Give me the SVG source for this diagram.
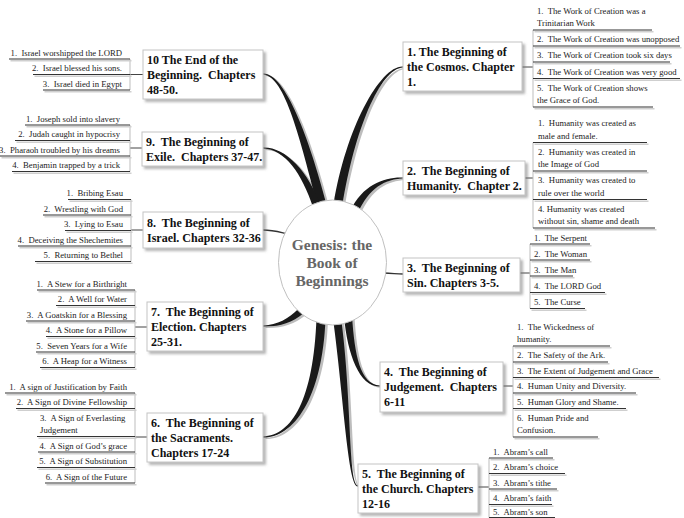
<svg xmlns="http://www.w3.org/2000/svg" xmlns:xlink="http://www.w3.org/1999/xlink" width="684" height="518" viewBox="0 0 684 518">
<style>
.mn{font-family:"Liberation Serif","Times New Roman",serif;font-weight:bold;font-size:12px;fill:#111;white-space:pre}
.it{font-family:"Liberation Serif","Times New Roman",serif;font-size:8.7px;fill:#222;white-space:pre}
.ct{font-family:"Liberation Serif","Times New Roman",serif;font-weight:bold;font-size:15.5px;fill:#666;text-anchor:middle}
.box{fill:#fff;stroke:#c4c4c4;stroke-width:1}
.ul{stroke:#333;stroke-width:1.2;fill:none}
.uls{stroke:#cfcfcf;stroke-width:1.4;fill:none}
.br{stroke:#bdbdbd;stroke-width:1;fill:none}
.lk{stroke:#444;stroke-width:1;fill:none}
.tp{fill:#1a1a1a}
.tps{fill:#bdbdbd}
.thin{stroke:#333;stroke-width:1.3;fill:none}
.r{text-anchor:end}
</style>
<defs>
<filter id="ds" x="-10%" y="-10%" width="130%" height="140%">
<feDropShadow dx="2.5" dy="2.5" stdDeviation="1.2" flood-color="#777" flood-opacity="0.55"/>
</filter>
<path id="tA" d="M263,73.5 C285,72.5 309.4,138.9 326.4,203.9 L317.6,206.1 C300.6,141.1 285,75.5 263,74.5 Z"/>
<path id="tB" d="M263,147.5 C285,146.7 308.3,170.9 320.6,205.8 L313.4,208.2 C301.7,173.1 285,149.3 263,148.5 Z"/>
<path id="tC" d="M403,66.5 C380,65.5 345.6,129.3 333.6,204.3 L342.4,205.7 C354.4,130.7 380,68.5 403,67.5 Z"/>
<path id="tD" d="M403,177.5 C385,176.7 362.8,184.5 350.5,210.4 L357.5,213.6 C369.2,187.5 385,179.3 403,178.5 Z"/>
<path id="tE" d="M263,325.5 C278,324.8 288,318.8 298.7,308.4 L303.3,313.6 C292,323.2 278,327.2 263,326.5 Z"/>
<path id="tF" d="M263,436.5 C292,435.5 313.5,399.8 316.5,317.8 L325.5,318.2 C322.5,400.2 292,438.5 263,437.5 Z"/>
<path id="tG" d="M358,485.5 C348,484.5 352,399.5 341,317.5 L333,318.5 C344,400.5 348,487.5 358,486.5 Z"/>
<path id="tH" d="M380,385.5 C360,384.5 354.6,354.7 352,315.7 L344,316.3 C347.4,355.3 360,387.5 380,386.5 Z"/>
<path id="u10" d="M9,59H130M33,74.5H130M43,90H130"/>
<path id="u9" d="M25,125H130M15,140.5H130M0,156H130M12,171.5H130"/>
<path id="u8" d="M68,199.5H131M43,215H131M65,230.5H131M18,246H131M35,261.5H131"/>
<path id="u7" d="M37,290H135M56,305.5H135M26,321H135M46,336.5H135M36,352H135M40,367.5H135"/>
<path id="u6" d="M5,393H135M16,408.5H135M37,436.5H135M38,452H135M37,467.5H135M45,483H135"/>
<path id="u1" d="M533,30H652M533,46H680M533,62H670M533,78.5H680M533,107H653"/>
<path id="u2" d="M533,142.5H647M533,171H647M533,199.5H647M533,228H655"/>
<path id="u3" d="M530,244H590M530,260H590M530,276H573M530,292.5H605M530,308.5H585"/>
<path id="u4" d="M513,346H610M513,362H608M513,377.5H659M513,393H636M513,408.5H626M513,437H598"/>
<path id="u5" d="M489,458H553M489,473.5H565M489,489H557M489,504.5H552M489,517.5H555"/>
</defs>

<g id="connectors">
<g class="tps" transform="translate(2.5,1.5)">
<use href="#tA"/><use href="#tB"/><use href="#tC"/><use href="#tD"/><use href="#tE"/><use href="#tF"/><use href="#tG"/><use href="#tH"/>
</g>
<g class="tp">
<use href="#tA"/><use href="#tB"/><use href="#tC"/><use href="#tD"/><use href="#tE"/><use href="#tF"/><use href="#tG"/><use href="#tH"/>
</g>
<path class="thin" d="M263,230 C273,230 279,232 288,234"/>
<path class="thin" d="M384,273 C392,273 396,274 403,274"/>
<path class="lk" d="M130,74.5H143M130,148H142M131,230H143M135,327H147M135,437H147M522,67H533M525,178H533M520,273H530M503,386H513M478,487H489"/>
<path class="br" d="M130,59V90M130,125V171.5M131,199.5V261.5M135,290V367.5M135,393V483M533,30V107M533,142.5V228M530,244V308.5M513,346V437M489,458V517.5"/>
</g>

<g id="center">
<ellipse cx="332.5" cy="262.5" rx="54" ry="62.5" fill="#fff" stroke="#c0c0c0" stroke-width="1"/>
<text class="ct" x="332" y="250">Genesis: the</text>
<text class="ct" x="332" y="268">Book of</text>
<text class="ct" x="332" y="286">Beginnings</text>
</g>

<g id="node10">
<rect class="box" x="143" y="50" width="120" height="49" filter="url(#ds)"/>
<text class="mn" x="147" y="64">10 The End of the</text>
<text class="mn" x="147" y="79">Beginning.  Chapters</text>
<text class="mn" x="147" y="94">48-50.</text>
<use href="#u10" class="uls" transform="translate(1.5,1.8)"/><use href="#u10" class="ul"/>
<text class="it r" x="122" y="55.5">1.  Israel worshipped the LORD</text>
<text class="it r" x="122" y="71">2.  Israel blessed his sons.</text>
<text class="it r" x="122" y="86.5">3.  Israel died in Egypt</text>
</g>

<g id="node9">
<rect class="box" x="142" y="132" width="121" height="34" filter="url(#ds)"/>
<text class="mn" x="146" y="146">9.  The Beginning of</text>
<text class="mn" x="146" y="161">Exile.  Chapters 37-47.</text>
<use href="#u9" class="uls" transform="translate(1.5,1.8)"/><use href="#u9" class="ul"/>
<text class="it r" x="120" y="121.5">1.  Joseph sold into slavery</text>
<text class="it r" x="120" y="137">2.  Judah caught in hypocrisy</text>
<text class="it r" x="120" y="152.5">3.  Pharaoh troubled by his dreams</text>
<text class="it r" x="120" y="168">4.  Benjamin trapped by a trick</text>
</g>

<g id="node8">
<rect class="box" x="143" y="212" width="120" height="36" filter="url(#ds)"/>
<text class="mn" x="147" y="227">8.  The Beginning of</text>
<text class="mn" x="147" y="242">Israel. Chapters 32-36</text>
<use href="#u8" class="uls" transform="translate(1.5,1.8)"/><use href="#u8" class="ul"/>
<text class="it r" x="123" y="196">1.  Bribing Esau</text>
<text class="it r" x="123" y="211.5">2.  Wrestling with God</text>
<text class="it r" x="123" y="227">3.  Lying to Esau</text>
<text class="it r" x="123" y="242.5">4.  Deceiving the Shechemites</text>
<text class="it r" x="123" y="258">5.  Returning to Bethel</text>
</g>

<g id="node7">
<rect class="box" x="147" y="302" width="116" height="49" filter="url(#ds)"/>
<text class="mn" x="151" y="316">7.  The Beginning of</text>
<text class="mn" x="151" y="331">Election. Chapters</text>
<text class="mn" x="151" y="346">25-31.</text>
<use href="#u7" class="uls" transform="translate(1.5,1.8)"/><use href="#u7" class="ul"/>
<text class="it r" x="127" y="286.5">1.  A Stew for a Birthright</text>
<text class="it r" x="127" y="302">2.  A Well for Water</text>
<text class="it r" x="127" y="317.5">3.  A Goatskin for a Blessing</text>
<text class="it r" x="127" y="333">4.  A Stone for a Pillow</text>
<text class="it r" x="127" y="348.5">5.  Seven Years for a Wife</text>
<text class="it r" x="127" y="364">6.  A Heap for a Witness</text>
</g>

<g id="node6">
<rect class="box" x="147" y="413" width="116" height="49" filter="url(#ds)"/>
<text class="mn" x="151" y="427">6.  The Beginning of</text>
<text class="mn" x="151" y="442">the Sacraments.</text>
<text class="mn" x="151" y="457">Chapters 17-24</text>
<use href="#u6" class="uls" transform="translate(1.5,1.8)"/><use href="#u6" class="ul"/>
<text class="it r" x="127" y="389.5">1.  A sign of Justification by Faith</text>
<text class="it r" x="127" y="405">2.  A Sign of Divine Fellowship</text>
<text class="it" x="40" y="420.5">3.  A Sign of Everlasting</text>
<text class="it" x="40" y="433">Judgement</text>
<text class="it r" x="127" y="448.5">4.  A Sign of God’s grace</text>
<text class="it r" x="127" y="464">5.  A Sign of Substitution</text>
<text class="it r" x="127" y="479.5">6.  A Sign of the Future</text>
</g>

<g id="node1">
<rect class="box" x="403" y="42" width="119" height="49" filter="url(#ds)"/>
<text class="mn" x="407" y="56">1. The Beginning of</text>
<text class="mn" x="407" y="71">the Cosmos. Chapter</text>
<text class="mn" x="407" y="86">1.</text>
<use href="#u1" class="uls" transform="translate(1.5,1.8)"/><use href="#u1" class="ul"/>
<text class="it" x="537" y="13.5">1.  The Work of Creation was a</text>
<text class="it" x="537" y="26">Trinitarian Work</text>
<text class="it" x="537" y="42">2.  The Work of Creation was unopposed</text>
<text class="it" x="537" y="58">3.  The Work of Creation took six days</text>
<text class="it" x="537" y="74.5">4.  The Work of Creation was very good</text>
<text class="it" x="537" y="90.5">5.  The Work of Creation shows</text>
<text class="it" x="537" y="103">the Grace of God.</text>
</g>

<g id="node2">
<rect class="box" x="403" y="161" width="122" height="34" filter="url(#ds)"/>
<text class="mn" x="407" y="175">2.  The Beginning of</text>
<text class="mn" x="407" y="190">Humanity.  Chapter 2.</text>
<use href="#u2" class="uls" transform="translate(1.5,1.8)"/><use href="#u2" class="ul"/>
<text class="it" x="538" y="126">1.  Humanity was created as</text>
<text class="it" x="538" y="138.5">male and female.</text>
<text class="it" x="538" y="154.5">2.  Humanity was created in</text>
<text class="it" x="538" y="167">the Image of God</text>
<text class="it" x="538" y="183">3.  Humanity was created to</text>
<text class="it" x="538" y="195.5">rule over the world</text>
<text class="it" x="538" y="211.5">4. Humanity was created</text>
<text class="it" x="538" y="224">without sin, shame and death</text>
</g>

<g id="node3">
<rect class="box" x="403" y="258" width="117" height="34" filter="url(#ds)"/>
<text class="mn" x="407" y="272">3.  The Beginning of</text>
<text class="mn" x="407" y="287">Sin. Chapters 3-5.</text>
<use href="#u3" class="uls" transform="translate(1.5,1.8)"/><use href="#u3" class="ul"/>
<text class="it" x="534" y="240.5">1.  The Serpent</text>
<text class="it" x="534" y="256.5">2.  The Woman</text>
<text class="it" x="534" y="272.5">3.  The Man</text>
<text class="it" x="534" y="289">4.  The LORD God</text>
<text class="it" x="534" y="305">5.  The Curse</text>
</g>

<g id="node4">
<rect class="box" x="380" y="362" width="123" height="50" filter="url(#ds)"/>
<text class="mn" x="384" y="376">4.  The Beginning of</text>
<text class="mn" x="384" y="391">Judgement.  Chapters</text>
<text class="mn" x="384" y="406">6-11</text>
<use href="#u4" class="uls" transform="translate(1.5,1.8)"/><use href="#u4" class="ul"/>
<text class="it" x="517" y="329.5">1.  The Wickedness of</text>
<text class="it" x="517" y="342">humanity.</text>
<text class="it" x="517" y="358">2.  The Safety of the Ark.</text>
<text class="it" x="517" y="373.5">3.  The Extent of Judgement and Grace</text>
<text class="it" x="517" y="389">4.  Human Unity and Diversity.</text>
<text class="it" x="517" y="404.5">5.  Human Glory and Shame.</text>
<text class="it" x="517" y="420.5">6.  Human Pride and</text>
<text class="it" x="517" y="433">Confusion.</text>
</g>

<g id="node5">
<rect class="box" x="358" y="464" width="120" height="49" filter="url(#ds)"/>
<text class="mn" x="362" y="478">5.  The Beginning of</text>
<text class="mn" x="362" y="493">the Church. Chapters</text>
<text class="mn" x="362" y="508">12-16</text>
<use href="#u5" class="uls" transform="translate(1.5,1.8)"/><use href="#u5" class="ul"/>
<text class="it" x="493" y="454.5">1.  Abram’s call</text>
<text class="it" x="493" y="470">2.  Abram’s choice</text>
<text class="it" x="493" y="485.5">3.  Abram’s tithe</text>
<text class="it" x="493" y="501">4.  Abram’s faith</text>
<text class="it" x="493" y="514.5">5.  Abram’s son</text>
</g>
</svg>
